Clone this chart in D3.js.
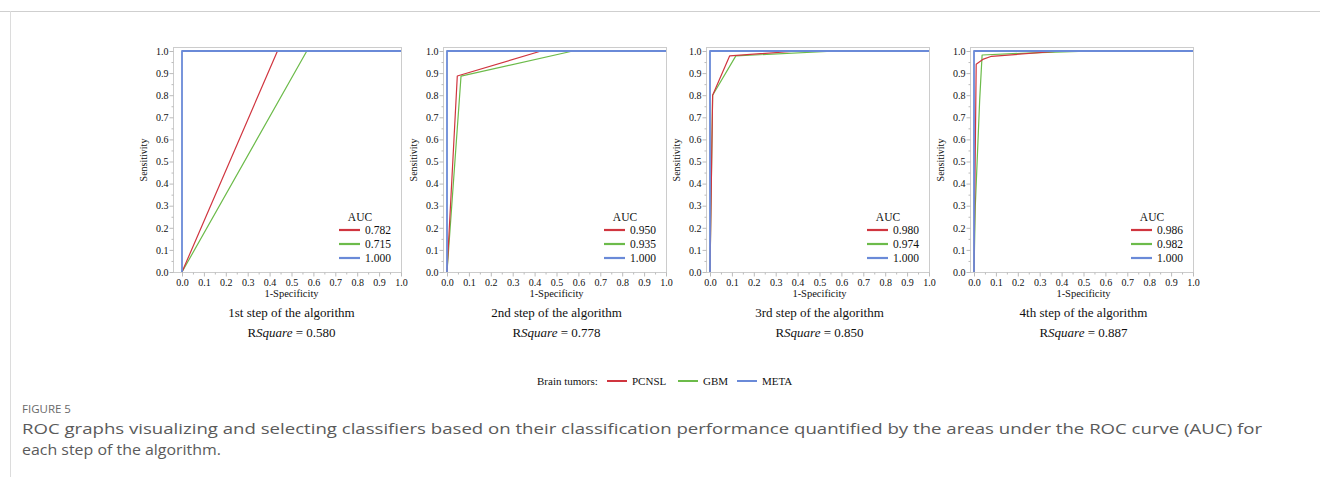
<!DOCTYPE html>
<html>
<head>
<meta charset="utf-8">
<script src="https://cdn.jsdelivr.net/npm/d3@7/dist/d3.min.js"></script>
<style>
  html, body { margin: 0; padding: 0; background: #fff; }
  svg { display: block; }
</style>
</head>
<body>
<div id="vis"></div>
<script>
// ---- data ----
const stepTitles = ["1st step of the algorithm", "2nd step of the algorithm",
                    "3rd step of the algorithm", "4th step of the algorithm"];
const rSquare = ["0.580", "0.778", "0.850", "0.887"];
const tumors = ["PCNSL", "GBM", "META"];
const aucPCNSL = ["0.782", "0.950", "0.980", "0.986"];
const aucGBM = ["0.715", "0.935", "0.974", "0.982"];
const aucMETA = ["1.000", "1.000", "1.000", "1.000"];
const tickLabels = ["0.0", "0.1", "0.2", "0.3", "0.4", "0.5", "0.6", "0.7", "0.8", "0.9", "1.0"];

// ROC points [1-specificity, sensitivity] per step
const rocPCNSL = [
  [[0, 0], [0.436, 1], [1, 1]],
  [[0, 0], [0.047, 0.887], [0.43, 1], [1, 1]],
  [[0, 0], [0.012, 0.8], [0.09, 0.978], [0.4, 1], [1, 1]],
  [[0, 0], [0.01, 0.94], [0.04, 0.962], [0.08, 0.976], [0.4, 1], [1, 1]]
];
const rocGBM = [
  [[0, 0], [0.57, 1], [1, 1]],
  [[0, 0], [0.064, 0.886], [0.575, 1], [1, 1]],
  [[0, 0], [0.012, 0.8], [0.118, 0.978], [0.58, 1], [1, 1]],
  [[0, 0], [0.006, 0.3], [0.026, 0.78], [0.037, 0.982], [0.3, 0.993], [0.55, 1], [1, 1]]
];
const rocMETA = [
  [[0, 0], [0, 1], [1, 1]],
  [[0, 0], [0, 1], [1, 1]],
  [[0, 0], [0, 1], [1, 1]],
  [[0, 0], [0, 1], [1, 1]]
];

const colors = { PCNSL: "#d0353f", GBM: "#6cbb4a", META: "#6a8ad8" };
const serif = "'Liberation Serif', 'Times New Roman', serif";

const W = 1320, H = 477;
const svg = d3.select("#vis").append("svg").attr("width", W).attr("height", H);

// page frame lines
svg.append("line").attr("x1", 0).attr("x2", W).attr("y1", 11.5).attr("y2", 11.5)
  .attr("stroke", "#cfcfcf").attr("stroke-width", 1);
svg.append("line").attr("x1", 10.5).attr("x2", 10.5).attr("y1", 11).attr("y2", H)
  .attr("stroke", "#dcdcdc").attr("stroke-width", 1);

// panel layout
const dataLeft = [182, 447, 710, 974];
const frameLeft = [173, 443, 706, 970];
const plotW = 219;
const frameTop = 47, yTop = 51, yBottom = 272;

stepTitles.forEach(function (title, i) {
  const x = d3.scaleLinear().domain([0, 1]).range([dataLeft[i], dataLeft[i] + plotW]);
  const y = d3.scaleLinear().domain([0, 1]).range([yBottom, yTop]);
  const g = svg.append("g").attr("class", "panel");
  const fl = frameLeft[i], fr = dataLeft[i] + plotW;

  // frame
  g.append("rect").attr("x", fl + 0.5).attr("y", frameTop + 0.5)
    .attr("width", fr - fl).attr("height", yBottom - frameTop)
    .attr("fill", "none").attr("stroke", "#cccccc").attr("stroke-width", 1);

  // y axis
  const yAxis = g.append("g").attr("transform", "translate(" + (fl + 0.5) + ",0)")
    .call(d3.axisLeft(y).tickValues(d3.range(0, 1.0001, 0.05)).tickSize(3)
      .tickFormat(function (d) {
        const k = Math.round(d * 20);
        return k % 2 === 0 ? tickLabels[k / 2] : "";
      }));
  yAxis.select(".domain").remove();
  yAxis.selectAll(".tick line").attr("stroke", "#bbbbbb")
    .attr("x2", function (d) { return Math.round(d * 20) % 2 === 0 ? -4 : -2; });
  yAxis.selectAll(".tick text").attr("x", -5).attr("fill", "#111")
    .style("font-family", serif).style("font-size", "10px");

  // x axis
  const xAxis = g.append("g").attr("transform", "translate(0," + (yBottom + 0.5) + ")")
    .call(d3.axisBottom(x).tickValues(d3.range(0, 1.0001, 0.05)).tickSize(3)
      .tickFormat(function (d) {
        const k = Math.round(d * 20);
        return k % 2 === 0 ? tickLabels[k / 2] : "";
      }));
  xAxis.select(".domain").remove();
  xAxis.selectAll(".tick line").attr("stroke", "#bbbbbb")
    .attr("y2", function (d) { return Math.round(d * 20) % 2 === 0 ? 4 : 2; });
  xAxis.selectAll(".tick text").attr("y", 6).attr("fill", "#111")
    .style("font-family", serif).style("font-size", "10px");

  // axis titles
  const cx = (x(0) + x(1)) / 2;
  g.append("text").attr("x", cx).attr("y", 297).attr("text-anchor", "middle")
    .style("font-family", serif).style("font-size", "10.5px").attr("fill", "#111")
    .text("1-Specificity");
  g.append("text").attr("transform", "translate(" + (fl - 26) + "," + 160 + ") rotate(-90)")
    .attr("text-anchor", "middle")
    .style("font-family", serif).style("font-size", "10px").attr("fill", "#111")
    .text("Sensitivity");

  // curves
  const line = d3.line().x(function (d) { return x(d[0]); }).y(function (d) { return y(d[1]); });
  const curveSets = [
    { name: "GBM", pts: rocGBM[i] },
    { name: "PCNSL", pts: rocPCNSL[i] },
    { name: "META", pts: rocMETA[i] }
  ];
  curveSets.forEach(function (c) {
    g.append("path").datum(c.pts).attr("d", line)
      .attr("fill", "none").attr("stroke", colors[c.name])
      .attr("stroke-width", c.name === "META" ? 1.8 : 1.2)
      .attr("stroke-linejoin", "round");
  });

  // inner AUC legend
  g.append("text").attr("x", fr - 41).attr("y", 221).attr("text-anchor", "middle")
    .style("font-family", serif).style("font-size", "11.5px").attr("fill", "#111")
    .text("AUC");
  const aucs = [aucPCNSL[i], aucGBM[i], aucMETA[i]];
  tumors.forEach(function (t, j) {
    const ly = 230 + j * 14;
    g.append("line").attr("x1", fr - 62).attr("x2", fr - 41).attr("y1", ly).attr("y2", ly)
      .attr("stroke", colors[t]).attr("stroke-width", 2.2);
    g.append("text").attr("x", fr - 36).attr("y", ly + 4)
      .style("font-family", serif).style("font-size", "11.5px").attr("fill", "#111")
      .text(aucs[j]);
  });

  // step title and R square
  g.append("text").attr("x", cx).attr("y", 317).attr("text-anchor", "middle")
    .style("font-family", serif).style("font-size", "13px").attr("fill", "#111")
    .text(title);
  const rs = g.append("text").attr("x", cx).attr("y", 337).attr("text-anchor", "middle")
    .style("font-family", serif).style("font-size", "13px").attr("fill", "#111");
  rs.append("tspan").text("R");
  rs.append("tspan").style("font-style", "italic").text("Square");
  rs.append("tspan").text(" = " + rSquare[i]);
});

// bottom legend
const leg = svg.append("g");
leg.append("text").attr("x", 537).attr("y", 385)
  .style("font-family", serif).style("font-size", "11px").attr("fill", "#111")
  .text("Brain tumors:");
const legX = [607, 678, 737];
tumors.forEach(function (t, j) {
  leg.append("line").attr("x1", legX[j]).attr("x2", legX[j] + 20).attr("y1", 381).attr("y2", 381)
    .attr("stroke", colors[t]).attr("stroke-width", 2);
  leg.append("text").attr("x", legX[j] + 25).attr("y", 385)
    .style("font-family", serif).style("font-size", "11px").attr("fill", "#111")
    .text(t);
});

// caption
const sans = "'Open Sans', 'Noto Sans', sans-serif";
svg.append("text").attr("x", 22).attr("y", 413)
  .style("font-family", sans).style("font-size", "11.5px").attr("fill", "#6a6a6a")
  .text("FIGURE 5");
svg.append("text").attr("x", 22).attr("y", 434)
  .attr("textLength", 1240).attr("lengthAdjust", "spacingAndGlyphs")
  .style("font-family", sans).style("font-size", "15px").attr("fill", "#5a5a5a")
  .text("ROC graphs visualizing and selecting classifiers based on their classification performance quantified by the areas under the ROC curve (AUC) for");
svg.append("text").attr("x", 22).attr("y", 455)
  .attr("textLength", 199).attr("lengthAdjust", "spacingAndGlyphs")
  .style("font-family", sans).style("font-size", "15px").attr("fill", "#5a5a5a")
  .text("each step of the algorithm.");
</script>
</body>
</html>
